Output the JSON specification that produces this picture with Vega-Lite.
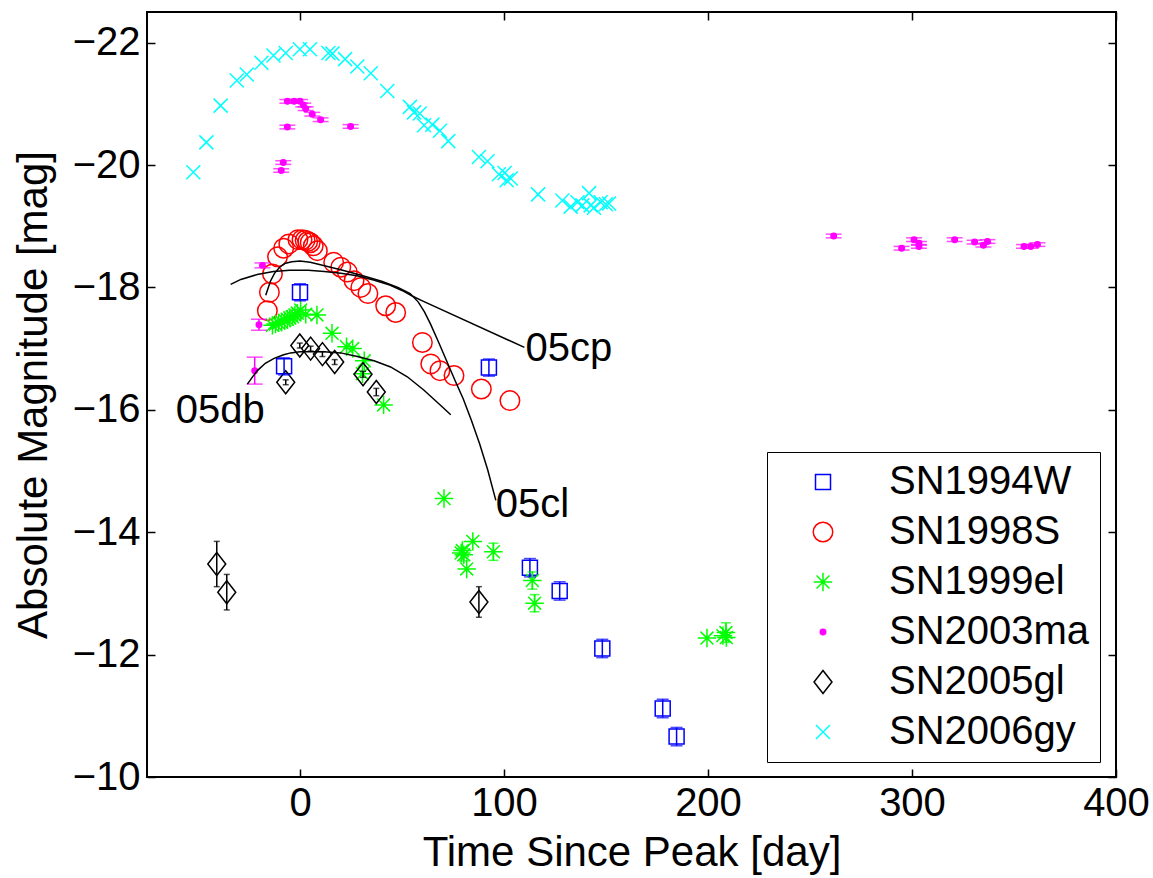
{
  "$schema": "https://vega.github.io/schema/vega-lite/v6.json",
  "width": 969,
  "height": 765,
  "autosize": {"type": "none"},
  "padding": {"left": 147, "top": 12, "right": 37, "bottom": 101},
  "background": "white",
  "config": {
    "font": "Liberation Sans",
    "view": {"stroke": "black", "strokeWidth": 2},
    "axis": {"labelFont": "Liberation Sans", "titleFont": "Liberation Sans", "labelFontSize": 40, "titleFontSize": 42, "titleFontWeight": "normal", "labelColor": "black", "titleColor": "black", "tickColor": "black", "tickWidth": 1.5, "grid": false, "domain": false, "labelFlush": false, "labelOverlap": false},
    "legend": {"labelFont": "Liberation Sans", "labelFontSize": 40, "labelColor": "black", "labelLimit": 500}
  },
  "datasets": {
    "pts": [
      {"series": "SN1994W", "t": -7.8, "mag": -16.71, "lo": -16.85, "hi": -16.57},
      {"series": "SN1994W", "t": 0.0, "mag": -17.92, "lo": -18.06, "hi": -17.78},
      {"series": "SN1994W", "t": 92.6, "mag": -16.69, "lo": -16.83, "hi": -16.55},
      {"series": "SN1994W", "t": 112.7, "mag": -13.42, "lo": -13.57, "hi": -13.27},
      {"series": "SN1994W", "t": 127.3, "mag": -13.04, "lo": -13.19, "hi": -12.89},
      {"series": "SN1994W", "t": 148.2, "mag": -12.10, "lo": -12.25, "hi": -11.95},
      {"series": "SN1994W", "t": 177.8, "mag": -11.12, "lo": -11.27, "hi": -10.97},
      {"series": "SN1994W", "t": 184.6, "mag": -10.66, "lo": -10.81, "hi": -10.51},
      {"series": "SN1998S", "t": -16.0, "mag": -17.62},
      {"series": "SN1998S", "t": -15.0, "mag": -17.92},
      {"series": "SN1998S", "t": -13.5, "mag": -18.22},
      {"series": "SN1998S", "t": -11.0, "mag": -18.50},
      {"series": "SN1998S", "t": -8.0, "mag": -18.64},
      {"series": "SN1998S", "t": -5.5, "mag": -18.71},
      {"series": "SN1998S", "t": -1.0, "mag": -18.78},
      {"series": "SN1998S", "t": 1.0, "mag": -18.78},
      {"series": "SN1998S", "t": 2.5, "mag": -18.77},
      {"series": "SN1998S", "t": 3.8, "mag": -18.75},
      {"series": "SN1998S", "t": 5.0, "mag": -18.73},
      {"series": "SN1998S", "t": 6.5, "mag": -18.68},
      {"series": "SN1998S", "t": 8.5, "mag": -18.60},
      {"series": "SN1998S", "t": 16.5, "mag": -18.41},
      {"series": "SN1998S", "t": 20.0, "mag": -18.33},
      {"series": "SN1998S", "t": 23.2, "mag": -18.25},
      {"series": "SN1998S", "t": 26.5, "mag": -18.11},
      {"series": "SN1998S", "t": 29.8, "mag": -18.00},
      {"series": "SN1998S", "t": 33.3, "mag": -17.90},
      {"series": "SN1998S", "t": 42.0, "mag": -17.70},
      {"series": "SN1998S", "t": 46.9, "mag": -17.59},
      {"series": "SN1998S", "t": 60.0, "mag": -17.10},
      {"series": "SN1998S", "t": 64.1, "mag": -16.75},
      {"series": "SN1998S", "t": 68.6, "mag": -16.64},
      {"series": "SN1998S", "t": 75.5, "mag": -16.56},
      {"series": "SN1998S", "t": 88.9, "mag": -16.34},
      {"series": "SN1998S", "t": 102.9, "mag": -16.15},
      {"series": "SN1999el", "t": -13.5, "mag": -17.38},
      {"series": "SN1999el", "t": -12.0, "mag": -17.40},
      {"series": "SN1999el", "t": -10.5, "mag": -17.42},
      {"series": "SN1999el", "t": -9.0, "mag": -17.43},
      {"series": "SN1999el", "t": -7.5, "mag": -17.46},
      {"series": "SN1999el", "t": -6.2, "mag": -17.48},
      {"series": "SN1999el", "t": -5.0, "mag": -17.50},
      {"series": "SN1999el", "t": -3.7, "mag": -17.52},
      {"series": "SN1999el", "t": -2.5, "mag": -17.55},
      {"series": "SN1999el", "t": -1.3, "mag": -17.58},
      {"series": "SN1999el", "t": 0.3, "mag": -17.63},
      {"series": "SN1999el", "t": 2.8, "mag": -17.56},
      {"series": "SN1999el", "t": 8.3, "mag": -17.55},
      {"series": "SN1999el", "t": 15.7, "mag": -17.25},
      {"series": "SN1999el", "t": 22.8, "mag": -17.03},
      {"series": "SN1999el", "t": 25.8, "mag": -17.00},
      {"series": "SN1999el", "t": 31.5, "mag": -16.80},
      {"series": "SN1999el", "t": 30.6, "mag": -16.59},
      {"series": "SN1999el", "t": 41.0, "mag": -16.08},
      {"series": "SN1999el", "t": 70.6, "mag": -14.55},
      {"series": "SN1999el", "t": 79.6, "mag": -13.70},
      {"series": "SN1999el", "t": 80.3, "mag": -13.63, "lo": -13.73, "hi": -13.53},
      {"series": "SN1999el", "t": 79.0, "mag": -13.66},
      {"series": "SN1999el", "t": 81.7, "mag": -13.40},
      {"series": "SN1999el", "t": 84.7, "mag": -13.85},
      {"series": "SN1999el", "t": 94.8, "mag": -13.68, "lo": -13.82, "hi": -13.54},
      {"series": "SN1999el", "t": 113.9, "mag": -13.21, "lo": -13.35, "hi": -13.07},
      {"series": "SN1999el", "t": 115.0, "mag": -12.84, "lo": -12.98, "hi": -12.70},
      {"series": "SN1999el", "t": 199.5, "mag": -12.27},
      {"series": "SN1999el", "t": 207.3, "mag": -12.31},
      {"series": "SN1999el", "t": 208.8, "mag": -12.36, "lo": -12.52, "hi": -12.20},
      {"series": "SN1999el", "t": 209.0, "mag": -12.28},
      {"series": "SN2003ma", "t": -22.2, "mag": -16.64, "lo": -16.86, "hi": -16.42},
      {"series": "SN2003ma", "t": -20.1, "mag": -17.39, "lo": -17.48, "hi": -17.30},
      {"series": "SN2003ma", "t": -18.4, "mag": -18.36, "lo": -18.40, "hi": -18.32},
      {"series": "SN2003ma", "t": -9.2, "mag": -19.91, "lo": -19.94, "hi": -19.88},
      {"series": "SN2003ma", "t": -8.2, "mag": -20.04, "lo": -20.07, "hi": -20.01},
      {"series": "SN2003ma", "t": -6.2, "mag": -20.62, "lo": -20.65, "hi": -20.59},
      {"series": "SN2003ma", "t": -6.2, "mag": -21.04, "lo": -21.07, "hi": -21.01},
      {"series": "SN2003ma", "t": -2.9, "mag": -21.04, "lo": -21.07, "hi": -21.01},
      {"series": "SN2003ma", "t": 0.0, "mag": -21.04, "lo": -21.07, "hi": -21.01},
      {"series": "SN2003ma", "t": 1.6, "mag": -20.98, "lo": -21.01, "hi": -20.95},
      {"series": "SN2003ma", "t": 2.8, "mag": -20.92, "lo": -20.95, "hi": -20.89},
      {"series": "SN2003ma", "t": 6.0, "mag": -20.83, "lo": -20.86, "hi": -20.80},
      {"series": "SN2003ma", "t": 10.1, "mag": -20.74, "lo": -20.77, "hi": -20.71},
      {"series": "SN2003ma", "t": 24.8, "mag": -20.63, "lo": -20.66, "hi": -20.60},
      {"series": "SN2003ma", "t": 261.6, "mag": -18.84, "lo": -18.87, "hi": -18.81},
      {"series": "SN2003ma", "t": 294.9, "mag": -18.64, "lo": -18.67, "hi": -18.61},
      {"series": "SN2003ma", "t": 301.0, "mag": -18.78, "lo": -18.81, "hi": -18.75},
      {"series": "SN2003ma", "t": 303.4, "mag": -18.72, "lo": -18.75, "hi": -18.69},
      {"series": "SN2003ma", "t": 303.4, "mag": -18.67, "lo": -18.70, "hi": -18.64},
      {"series": "SN2003ma", "t": 320.9, "mag": -18.78, "lo": -18.81, "hi": -18.75},
      {"series": "SN2003ma", "t": 330.7, "mag": -18.74, "lo": -18.77, "hi": -18.71},
      {"series": "SN2003ma", "t": 335.0, "mag": -18.69, "lo": -18.72, "hi": -18.66},
      {"series": "SN2003ma", "t": 337.0, "mag": -18.75, "lo": -18.78, "hi": -18.72},
      {"series": "SN2003ma", "t": 354.9, "mag": -18.67, "lo": -18.70, "hi": -18.64},
      {"series": "SN2003ma", "t": 358.2, "mag": -18.67, "lo": -18.70, "hi": -18.64},
      {"series": "SN2003ma", "t": 361.5, "mag": -18.70, "lo": -18.73, "hi": -18.67},
      {"series": "SN2005gl", "t": -40.8, "mag": -13.48, "lo": -13.85, "hi": -13.11},
      {"series": "SN2005gl", "t": -35.9, "mag": -13.02, "lo": -13.31, "hi": -12.73},
      {"series": "SN2005gl", "t": -7.0, "mag": -16.45, "lo": -16.49, "hi": -16.41},
      {"series": "SN2005gl", "t": -0.1, "mag": -17.05, "lo": -17.09, "hi": -17.01},
      {"series": "SN2005gl", "t": 5.2, "mag": -17.00, "lo": -17.04, "hi": -16.96},
      {"series": "SN2005gl", "t": 11.0, "mag": -16.91, "lo": -16.95, "hi": -16.87},
      {"series": "SN2005gl", "t": 17.0, "mag": -16.78, "lo": -16.82, "hi": -16.74},
      {"series": "SN2005gl", "t": 30.9, "mag": -16.58, "lo": -16.63, "hi": -16.53},
      {"series": "SN2005gl", "t": 37.4, "mag": -16.29, "lo": -16.35, "hi": -16.23},
      {"series": "SN2005gl", "t": 87.7, "mag": -12.86, "lo": -13.11, "hi": -12.61},
      {"series": "SN2006gy", "t": -52.3, "mag": -19.88},
      {"series": "SN2006gy", "t": -45.9, "mag": -20.37},
      {"series": "SN2006gy", "t": -38.9, "mag": -20.97},
      {"series": "SN2006gy", "t": -31.0, "mag": -21.38},
      {"series": "SN2006gy", "t": -26.1, "mag": -21.48},
      {"series": "SN2006gy", "t": -18.9, "mag": -21.67},
      {"series": "SN2006gy", "t": -13.0, "mag": -21.79},
      {"series": "SN2006gy", "t": -7.0, "mag": -21.83},
      {"series": "SN2006gy", "t": -0.1, "mag": -21.89},
      {"series": "SN2006gy", "t": 4.9, "mag": -21.89},
      {"series": "SN2006gy", "t": 13.9, "mag": -21.83},
      {"series": "SN2006gy", "t": 15.9, "mag": -21.82},
      {"series": "SN2006gy", "t": 22.1, "mag": -21.73},
      {"series": "SN2006gy", "t": 28.1, "mag": -21.61},
      {"series": "SN2006gy", "t": 34.7, "mag": -21.50},
      {"series": "SN2006gy", "t": 42.8, "mag": -21.21},
      {"series": "SN2006gy", "t": 53.9, "mag": -20.95},
      {"series": "SN2006gy", "t": 55.9, "mag": -20.86},
      {"series": "SN2006gy", "t": 58.7, "mag": -20.84},
      {"series": "SN2006gy", "t": 60.8, "mag": -20.65},
      {"series": "SN2006gy", "t": 64.9, "mag": -20.66},
      {"series": "SN2006gy", "t": 68.6, "mag": -20.56},
      {"series": "SN2006gy", "t": 72.7, "mag": -20.39},
      {"series": "SN2006gy", "t": 87.7, "mag": -20.13},
      {"series": "SN2006gy", "t": 91.9, "mag": -20.06},
      {"series": "SN2006gy", "t": 97.5, "mag": -19.85},
      {"series": "SN2006gy", "t": 100.3, "mag": -19.87},
      {"series": "SN2006gy", "t": 101.3, "mag": -19.75},
      {"series": "SN2006gy", "t": 103.3, "mag": -19.78},
      {"series": "SN2006gy", "t": 116.7, "mag": -19.52},
      {"series": "SN2006gy", "t": 128.6, "mag": -19.42},
      {"series": "SN2006gy", "t": 132.7, "mag": -19.32},
      {"series": "SN2006gy", "t": 136.0, "mag": -19.39},
      {"series": "SN2006gy", "t": 138.4, "mag": -19.34},
      {"series": "SN2006gy", "t": 141.7, "mag": -19.54},
      {"series": "SN2006gy", "t": 142.5, "mag": -19.34},
      {"series": "SN2006gy", "t": 144.1, "mag": -19.30},
      {"series": "SN2006gy", "t": 147.4, "mag": -19.39},
      {"series": "SN2006gy", "t": 149.9, "mag": -19.36},
      {"series": "SN2006gy", "t": 151.5, "mag": -19.37}
    ],
    "curves": [
      {"curve": "05cp", "t": -34, "mag": -18.05},
      {"curve": "05cp", "t": -29, "mag": -18.13},
      {"curve": "05cp", "t": -21, "mag": -18.21},
      {"curve": "05cp", "t": -13, "mag": -18.26},
      {"curve": "05cp", "t": -5, "mag": -18.28},
      {"curve": "05cp", "t": 4, "mag": -18.28},
      {"curve": "05cp", "t": 12, "mag": -18.26},
      {"curve": "05cp", "t": 20, "mag": -18.23},
      {"curve": "05cp", "t": 28, "mag": -18.19},
      {"curve": "05cp", "t": 36, "mag": -18.12},
      {"curve": "05cp", "t": 44, "mag": -18.04},
      {"curve": "05cp", "t": 50, "mag": -17.95},
      {"curve": "05cp", "t": 55, "mag": -17.86},
      {"curve": "05cp", "t": 60, "mag": -17.78},
      {"curve": "05cp", "t": 110, "mag": -17.02},
      {"curve": "05cl", "t": -16.8, "mag": -17.87},
      {"curve": "05cl", "t": -14.5, "mag": -18.10},
      {"curve": "05cl", "t": -12.5, "mag": -18.23},
      {"curve": "05cl", "t": -10, "mag": -18.33},
      {"curve": "05cl", "t": -7.5, "mag": -18.39},
      {"curve": "05cl", "t": -4, "mag": -18.42},
      {"curve": "05cl", "t": 0, "mag": -18.43},
      {"curve": "05cl", "t": 5, "mag": -18.41},
      {"curve": "05cl", "t": 10, "mag": -18.37},
      {"curve": "05cl", "t": 20, "mag": -18.29},
      {"curve": "05cl", "t": 30, "mag": -18.20},
      {"curve": "05cl", "t": 40, "mag": -18.10},
      {"curve": "05cl", "t": 48, "mag": -18.00},
      {"curve": "05cl", "t": 54, "mag": -17.90},
      {"curve": "05cl", "t": 58, "mag": -17.76},
      {"curve": "05cl", "t": 61, "mag": -17.60},
      {"curve": "05cl", "t": 64, "mag": -17.40},
      {"curve": "05cl", "t": 68, "mag": -17.10},
      {"curve": "05cl", "t": 72, "mag": -16.79},
      {"curve": "05cl", "t": 76, "mag": -16.48},
      {"curve": "05cl", "t": 80, "mag": -16.18},
      {"curve": "05cl", "t": 84, "mag": -15.83},
      {"curve": "05cl", "t": 88, "mag": -15.45},
      {"curve": "05cl", "t": 92, "mag": -15.02},
      {"curve": "05cl", "t": 96, "mag": -14.52},
      {"curve": "05db", "t": -25.8, "mag": -16.42},
      {"curve": "05db", "t": -23, "mag": -16.55},
      {"curve": "05db", "t": -20.9, "mag": -16.64},
      {"curve": "05db", "t": -17, "mag": -16.76},
      {"curve": "05db", "t": -12.7, "mag": -16.84},
      {"curve": "05db", "t": -8, "mag": -16.90},
      {"curve": "05db", "t": -4.6, "mag": -16.93},
      {"curve": "05db", "t": 0, "mag": -16.95},
      {"curve": "05db", "t": 3.6, "mag": -16.95},
      {"curve": "05db", "t": 11.8, "mag": -16.95},
      {"curve": "05db", "t": 19.9, "mag": -16.93},
      {"curve": "05db", "t": 28.1, "mag": -16.87},
      {"curve": "05db", "t": 36.3, "mag": -16.80},
      {"curve": "05db", "t": 44.4, "mag": -16.70},
      {"curve": "05db", "t": 52.6, "mag": -16.54},
      {"curve": "05db", "t": 60.8, "mag": -16.32},
      {"curve": "05db", "t": 69.0, "mag": -16.07},
      {"curve": "05db", "t": 73.9, "mag": -15.92}
    ],
    "labels": [
      {"name": "05cp", "t": 110.6, "mag": -16.80},
      {"name": "05cl", "t": 95.9, "mag": -14.25},
      {"name": "05db", "t": -60.9, "mag": -15.78}
    ]
  },
  "resolve": {"axis": {"x": "independent", "y": "independent"}},
  "layer": [
    {
      "data": {"name": "pts"},
      "mark": {"type": "point", "filled": false, "strokeWidth": 1.5, "opacity": 1},
      "encoding": {
        "x": {"field": "t", "type": "quantitative", "scale": {"domain": [-75, 400], "nice": false, "zero": false},
              "axis": {"orient": "bottom", "values": [0, 100, 200, 300, 400], "title": "Time Since Peak [day]", "tickSize": -8, "labelPadding": 14, "titlePadding": 9}},
        "y": {"field": "mag", "type": "quantitative", "scale": {"domain": [-22.5, -10], "reverse": true, "nice": false, "zero": false},
              "axis": {"orient": "left", "values": [-22, -20, -18, -16, -14, -12, -10], "title": "Absolute Magnitude [mag]", "tickSize": -8, "labelPadding": 15, "titlePadding": 17}},
        "color": {"field": "series", "type": "nominal",
                  "scale": {"domain": ["SN1994W", "SN1998S", "SN1999el", "SN2003ma", "SN2005gl", "SN2006gy"], "range": ["#0000ff", "#ff0000", "#00ff00", "#ff00ff", "#000000", "#00ffff"]},
                  "legend": {"orient": "none", "legendX": 620, "legendY": 440, "title": null, "strokeColor": "black", "fillColor": "white", "padding": 10, "rowPadding": 10, "symbolOffset": 26, "labelOffset": 46, "symbolStrokeWidth": 1.5, "labelFontSize": 40, "labelFont": "Liberation Sans", "labelLimit": 500}},
        "shape": {"field": "series", "type": "nominal",
                  "scale": {"domain": ["SN1994W", "SN1998S", "SN1999el", "SN2003ma", "SN2005gl", "SN2006gy"], "range": ["square", "circle", "M-1,0L1,0M0,-1L0,1M-0.7,-0.7L0.7,0.7M-0.7,0.7L0.7,-0.7", "circle", "M0,-1L0.78,0L0,1L-0.78,0Z", "M-1,-1L1,1M-1,1L1,-1"]}},
        "size": {"field": "series", "type": "nominal",
                 "scale": {"type": "ordinal", "domain": ["SN1994W", "SN1998S", "SN1999el", "SN2003ma", "SN2005gl", "SN2006gy"], "range": [225, 380, 340, 30, 529, 196]}},
        "fill": {"field": "series", "type": "nominal",
                 "scale": {"domain": ["SN1994W", "SN1998S", "SN1999el", "SN2003ma", "SN2005gl", "SN2006gy"], "range": ["transparent", "transparent", "transparent", "#ff00ff", "transparent", "transparent"]}}
      }
    },
    {
      "data": {"name": "pts"},
      "transform": [{"filter": "datum.series === 'SN1994W' && isValid(datum.lo)"}],
      "layer": [
        {"mark": {"type": "rule", "color": "#0000ff", "strokeWidth": 1.5},
         "encoding": {"x": {"field": "t", "type": "quantitative", "scale": {"domain": [-75, 400], "nice": false, "zero": false}, "axis": null},
                      "y": {"field": "lo", "type": "quantitative", "scale": {"domain": [-22.5, -10], "reverse": true, "nice": false, "zero": false}, "axis": null},
                      "y2": {"field": "hi"}}},
        {"transform": [{"fold": ["lo", "hi"], "as": ["k", "v"]}],
         "mark": {"type": "tick", "orient": "horizontal", "size": 12, "thickness": 1.5, "color": "#0000ff"},
         "encoding": {"x": {"field": "t", "type": "quantitative", "scale": {"domain": [-75, 400], "nice": false, "zero": false}, "axis": null},
                      "y": {"field": "v", "type": "quantitative", "scale": {"domain": [-22.5, -10], "reverse": true, "nice": false, "zero": false}, "axis": null}}}
      ]
    },
    {
      "data": {"name": "pts"},
      "transform": [{"filter": "datum.series === 'SN1999el' && isValid(datum.lo)"}],
      "layer": [
        {"mark": {"type": "rule", "color": "#00ff00", "strokeWidth": 1.5},
         "encoding": {"x": {"field": "t", "type": "quantitative", "scale": {"domain": [-75, 400], "nice": false, "zero": false}, "axis": null},
                      "y": {"field": "lo", "type": "quantitative", "scale": {"domain": [-22.5, -10], "reverse": true, "nice": false, "zero": false}, "axis": null},
                      "y2": {"field": "hi"}}},
        {"transform": [{"fold": ["lo", "hi"], "as": ["k", "v"]}],
         "mark": {"type": "tick", "orient": "horizontal", "size": 10, "thickness": 1.5, "color": "#00ff00"},
         "encoding": {"x": {"field": "t", "type": "quantitative", "scale": {"domain": [-75, 400], "nice": false, "zero": false}, "axis": null},
                      "y": {"field": "v", "type": "quantitative", "scale": {"domain": [-22.5, -10], "reverse": true, "nice": false, "zero": false}, "axis": null}}}
      ]
    },
    {
      "data": {"name": "pts"},
      "transform": [{"filter": "datum.series === 'SN2003ma' && isValid(datum.lo)"}],
      "layer": [
        {"mark": {"type": "rule", "color": "#ff00ff", "strokeWidth": 1.5},
         "encoding": {"x": {"field": "t", "type": "quantitative", "scale": {"domain": [-75, 400], "nice": false, "zero": false}, "axis": null},
                      "y": {"field": "lo", "type": "quantitative", "scale": {"domain": [-22.5, -10], "reverse": true, "nice": false, "zero": false}, "axis": null},
                      "y2": {"field": "hi"}}},
        {"transform": [{"fold": ["lo", "hi"], "as": ["k", "v"]}],
         "mark": {"type": "tick", "orient": "horizontal", "size": 16, "thickness": 1.5, "color": "#ff00ff"},
         "encoding": {"x": {"field": "t", "type": "quantitative", "scale": {"domain": [-75, 400], "nice": false, "zero": false}, "axis": null},
                      "y": {"field": "v", "type": "quantitative", "scale": {"domain": [-22.5, -10], "reverse": true, "nice": false, "zero": false}, "axis": null}}}
      ]
    },
    {
      "data": {"name": "pts"},
      "transform": [{"filter": "datum.series === 'SN2005gl' && isValid(datum.lo)"}],
      "layer": [
        {"mark": {"type": "rule", "color": "#000000", "strokeWidth": 1.5},
         "encoding": {"x": {"field": "t", "type": "quantitative", "scale": {"domain": [-75, 400], "nice": false, "zero": false}, "axis": null},
                      "y": {"field": "lo", "type": "quantitative", "scale": {"domain": [-22.5, -10], "reverse": true, "nice": false, "zero": false}, "axis": null},
                      "y2": {"field": "hi"}}},
        {"transform": [{"fold": ["lo", "hi"], "as": ["k", "v"]}],
         "mark": {"type": "tick", "orient": "horizontal", "size": 6, "thickness": 1.5, "color": "#000000"},
         "encoding": {"x": {"field": "t", "type": "quantitative", "scale": {"domain": [-75, 400], "nice": false, "zero": false}, "axis": null},
                      "y": {"field": "v", "type": "quantitative", "scale": {"domain": [-22.5, -10], "reverse": true, "nice": false, "zero": false}, "axis": null}}}
      ]
    },
    {
      "data": {"name": "curves"},
      "mark": {"type": "line", "color": "black", "strokeWidth": 1.5},
      "encoding": {
        "x": {"field": "t", "type": "quantitative", "scale": {"domain": [-75, 400], "nice": false, "zero": false},
              "axis": {"orient": "top", "values": [0, 100, 200, 300, 400], "labels": false, "title": null, "tickSize": -8}},
        "y": {"field": "mag", "type": "quantitative", "scale": {"domain": [-22.5, -10], "reverse": true, "nice": false, "zero": false},
              "axis": {"orient": "right", "values": [-22, -20, -18, -16, -14, -12, -10], "labels": false, "title": null, "tickSize": -8}},
        "detail": {"field": "curve", "type": "nominal"}
      }
    },
    {
      "data": {"name": "labels"},
      "mark": {"type": "text", "align": "left", "baseline": "alphabetic", "fontSize": 40, "font": "Liberation Sans", "color": "black"},
      "encoding": {
        "x": {"field": "t", "type": "quantitative", "scale": {"domain": [-75, 400], "nice": false, "zero": false}, "axis": null},
        "y": {"field": "mag", "type": "quantitative", "scale": {"domain": [-22.5, -10], "reverse": true, "nice": false, "zero": false}, "axis": null},
        "text": {"field": "name", "type": "nominal"}
      }
    }
  ]
}
